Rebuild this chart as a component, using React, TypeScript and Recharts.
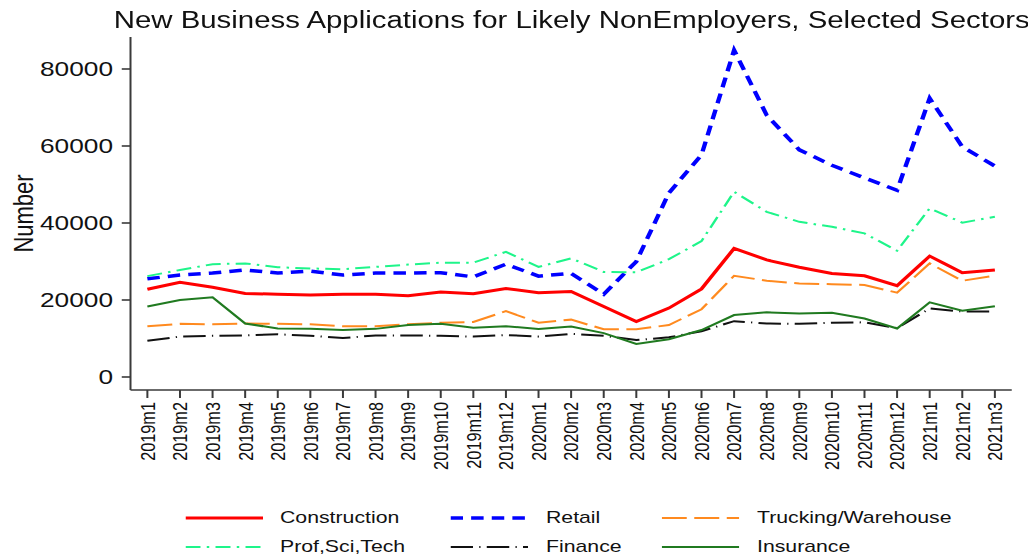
import React from "react";
import { LineChart, Line, XAxis, YAxis, Legend } from "recharts";

// monthly categories
const months = [
  "2019m1", "2019m2", "2019m3", "2019m4", "2019m5", "2019m6", "2019m7", "2019m8", "2019m9",
  "2019m10", "2019m11", "2019m12", "2020m1", "2020m2", "2020m3", "2020m4", "2020m5", "2020m6",
  "2020m7", "2020m8", "2020m9", "2020m10", "2020m11", "2020m12", "2021m1", "2021m2", "2021m3",
];

const construction = [22800, 24600, 23300, 21700, 21500, 21300, 21500, 21500, 21100, 22100, 21600, 23000, 21900, 22200, 18300, 14400, 17900, 22900, 33400, 30400, 28500, 26900, 26300, 23700, 31400, 27100, 27800];
const retail = [25500, 26500, 27000, 27800, 27000, 27500, 26500, 27000, 27000, 27100, 26000, 29300, 26200, 26900, 21500, 30000, 47800, 57700, 84900, 68000, 59000, 55000, 51700, 48500, 72400, 59800, 54800];
const trucking = [13200, 13800, 13700, 13900, 13800, 13700, 13200, 13200, 13700, 14100, 14300, 17100, 14100, 14900, 12400, 12400, 13500, 17600, 26300, 25000, 24300, 24100, 23900, 21900, 29500, 25000, 26300];
const profSciTech = [26200, 27800, 29300, 29500, 28500, 28200, 28000, 28600, 29200, 29700, 29700, 32500, 28600, 30800, 27300, 27200, 30600, 35300, 48100, 42900, 40300, 39000, 37300, 32800, 43800, 40100, 41600];
const finance = [9400, 10500, 10700, 10800, 11100, 10700, 10100, 10800, 10800, 10700, 10500, 10900, 10500, 11200, 10700, 9600, 10300, 11900, 14500, 13900, 13800, 14100, 14200, 12700, 17800, 17000, 17000];
const insurance = [18300, 20000, 20700, 13900, 12600, 12500, 12200, 12500, 13500, 13800, 12800, 13200, 12500, 13100, 11400, 8600, 9800, 12200, 16100, 16800, 16500, 16700, 15200, 12600, 19400, 17200, 18400];

const yTicks = [0, 20000, 40000, 60000, 80000];

const data = months.map((month, i) => ({
  month,
  construction: construction[i],
  retail: retail[i],
  trucking: trucking[i],
  profSciTech: profSciTech[i],
  finance: finance[i],
  insurance: insurance[i],
}));

// legend order: row by row, 3 columns
const series = [
  { key: "construction", name: "Construction", color: "#ff0000", width: 3, dash: undefined },
  { key: "retail", name: "Retail", color: "#0000ff", width: 3.5, dash: "10 6.5" },
  { key: "trucking", name: "Trucking/Warehouse", color: "#ff8a1f", width: 2, dash: "20 6" },
  { key: "profSciTech", name: "Prof,Sci,Tech", color: "#1ef58a", width: 2, dash: "12 5 2 5" },
  { key: "finance", name: "Finance", color: "#111111", width: 2, dash: "18 5 1 5" },
  { key: "insurance", name: "Insurance", color: "#207a20", width: 2, dash: undefined },
];

const FONT = '"Liberation Sans", Arial, sans-serif';
const AXIS = "#3a3a3a";
const INK = "#111";

// the original picture is stretched sideways, so the whole chart is drawn narrow and scaled
const STRETCH = 1.25;
const W = 822;
const H = 550;

const XTick = (props: any) => {
  const { x, y, payload } = props;
  return (
    <g transform={`translate(${x},${y})`}>
      <text transform="rotate(-90)" textAnchor="end" dy="0.36em" fontSize={16.3} fill={INK} fontFamily={FONT}>
        {payload.value}
      </text>
    </g>
  );
};

const YLabel = (props: any) => {
  const { viewBox } = props;
  const cy = viewBox.y + viewBox.height / 2;
  return (
    <text
      x={12}
      y={cy}
      transform={`rotate(-90, 12, ${cy})`}
      textAnchor="middle"
      dy="0.35em"
      fontSize={22}
      fill={INK}
      fontFamily={FONT}
    >
      Number
    </text>
  );
};

const colLeft = [141.6, 354.4, 523.2];
const rowMid = [19.5, 48.5];

const SectorLegend = () => (
  <div style={{ position: "relative", width: W, height: 60, fontFamily: FONT }}>
    {series.map((s, i) => (
      <div
        key={s.key}
        style={{
          position: "absolute",
          left: colLeft[i % 3],
          top: rowMid[Math.floor(i / 3)] - 10,
          height: 20,
          display: "flex",
          alignItems: "center",
          whiteSpace: "nowrap",
        }}
      >
        <svg width={62} height={8}>
          <line x1={0} y1={4} x2={62} y2={4} stroke={s.color} strokeWidth={s.width} strokeDasharray={s.dash} />
        </svg>
        <span style={{ marginLeft: 14, fontSize: 17, color: INK }}>{s.name}</span>
      </div>
    ))}
  </div>
);

export default function App() {
  return (
    <div
      style={{
        position: "relative",
        width: W,
        height: H,
        transform: `scaleX(${STRETCH})`,
        transformOrigin: "0 0",
        fontFamily: FONT,
        background: "#fff",
      }}
    >
      <div
        style={{
          position: "absolute",
          left: 40,
          top: 1,
          width: W,
          textAlign: "center",
          fontSize: 23.5,
          lineHeight: "23px",
          color: INK,
          whiteSpace: "nowrap",
          zIndex: 1,
        }}
      >
        New Business Applications for Likely NonEmployers, Selected Sectors
      </div>
      <LineChart width={W} height={H} data={data} margin={{ top: 29, right: 19, left: 0, bottom: 0 }}>
        <XAxis
          dataKey="month"
          interval={0}
          height={108}
          padding={{ left: 13.5, right: 13.5 }}
          stroke={AXIS}
          strokeWidth={1.6}
          tickSize={8}
          tickMargin={4}
          tick={(p: any) => <XTick {...p} />}
        />
        <YAxis
          width={98}
          domain={[-3377, 88311]}
          ticks={yTicks}
          allowDataOverflow
          stroke={AXIS}
          strokeWidth={1.6}
          tickSize={7}
          tickMargin={7}
          tick={{ fontSize: 21, fill: INK, fontFamily: FONT }}
          label={(p: any) => <YLabel {...p} />}
        />
        <Legend
          verticalAlign="bottom"
          content={() => <SectorLegend />}
          wrapperStyle={{ left: 0, bottom: 0, width: W, height: 60 }}
        />
        {series.map((s) => (
          <Line
            key={s.key}
            type="linear"
            dataKey={s.key}
            name={s.name}
            stroke={s.color}
            strokeWidth={s.width}
            strokeDasharray={s.dash}
            dot={false}
            activeDot={false}
            isAnimationActive={false}
          />
        ))}
      </LineChart>
    </div>
  );
}
